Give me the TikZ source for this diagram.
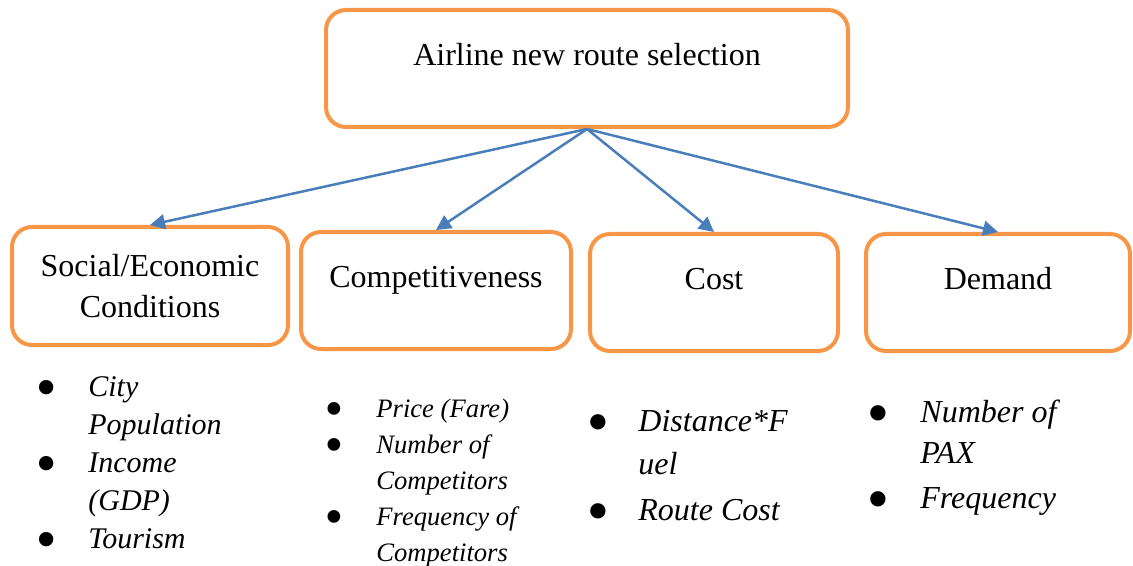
\documentclass[tikz,border=0pt]{standalone}
\usepackage{fontspec}
\setmainfont{Liberation Serif}
\usetikzlibrary{arrows.meta}

\definecolor{boxorange}{HTML}{F79646}
\definecolor{arrowblue}{HTML}{4A7EBB}
\newcommand\factordot{\leavevmode\kern-0.17em\smash{\raisebox{-0.36em}{\scalebox{2}{\textbullet}}}}

\begin{document}
\begin{tikzpicture}[x=0.5pt, y=-0.5pt,
  catbox/.style={draw=boxorange, line width=2pt, rounded corners=10pt, align=center,
    font=\fontsize{16}{20.5}\selectfont},
  highbox/.style={catbox, text height=11pt, text depth=14pt},
  link/.style={draw=arrowblue, line width=1.25pt, -{Triangle[length=7.5pt,width=7.5pt]}},
  factors/.style={anchor=north west, inner sep=0pt}]
  \useasboundingbox (0,0) rectangle (1133,566);
  % goal and the four criteria
  \node [highbox, minimum width=261pt, minimum height=58.5pt] (route) at (587,68.5) {Airline new route selection};
  \node [catbox, minimum width=138pt, minimum height=59pt] (social) at (150,286) {Social/Economic\\Conditions};
  \node [highbox, minimum width=135pt, minimum height=58.5pt] (compet) at (436,290.5) {Competitiveness};
  \node [highbox, minimum width=124pt, minimum height=58.5pt] (cost) at (714,292.5) {Cost};
  \node [highbox, minimum width=132pt, minimum height=58.5pt] (demand) at (998,292.5) {Demand};
  \draw [link] (route.south) -- (social.north);
  \draw [link] (route.south) -- (compet.north);
  \draw [link] (route.south) -- (cost.north);
  \draw [link] (route.south) -- (demand.north);
  % factor lists
  \node [factors, font=\fontsize{15}{19}\selectfont\itshape] (socialf) at (39.75,369.4) {%
    \begin{tabular}{@{}p{24.1pt}@{}l@{}}
      \factordot & City\\ & Population\\ \factordot & Income\\ & (GDP)\\ \factordot & Tourism
    \end{tabular}};
  \node [factors, font=\fontsize{13.3}{18}\selectfont\itshape] (competf) at (328.5,391.8) {%
    \begin{tabular}{@{}p{23.75pt}@{}l@{}}
      \factordot & Price (Fare)\\ \factordot & Number of\\ & Competitors\\ \factordot & Frequency of\\ & Competitors
    \end{tabular}};
  \node [factors, font=\fontsize{16}{21.5}\selectfont\itshape] (costf) at (591.4,401.4) {%
    \begin{tabular}{@{}p{23.3pt}@{}l@{}}
      \factordot & Distance*F\\ & uel\\[1.5pt] \factordot & Route Cost
    \end{tabular}};
  \node [factors, font=\fontsize{16}{20.5}\selectfont\itshape] (demandf) at (871.4,393.8) {%
    \begin{tabular}{@{}p{24.3pt}@{}l@{}}
      \factordot & Number of\\ & PAX\\[2pt] \factordot & Frequency
    \end{tabular}};
\end{tikzpicture}
\end{document}
